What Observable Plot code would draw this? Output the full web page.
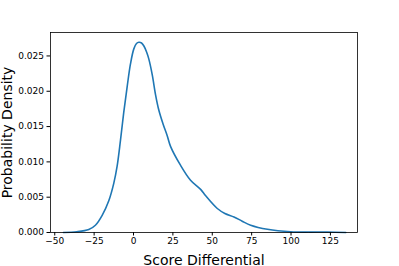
<!DOCTYPE html>
<html>
<head>
<meta charset="utf-8">
<script src="https://cdn.jsdelivr.net/npm/d3@7"></script>
<script src="https://cdn.jsdelivr.net/npm/@observablehq/plot@0.6"></script>
<style>
  html, body { margin: 0; padding: 0; background: #fff; }
</style>
</head>
<body>
<div id="chart"></div>
<script>
const scoreDiff = [-44.5, -36, -28.4, -24.2, -19.9, -15.7, -12.5, -10.4, -8.3, -6.2, -4.0, -1.9, 0.2, 1.9, 3.4, 5.1, 6.6, 8.3, 9.7, 11.9, 14.0, 16.1, 18.7, 21.4, 23.5, 29.9, 36.2, 42.6, 45.8, 53.2, 58, 63.8, 69, 74.4, 85.0, 99.8, 112, 123.1, 134.8];
const density = [0, 0.0001, 0.00042, 0.00103, 0.00244, 0.0045, 0.0070, 0.0094, 0.0130, 0.0170, 0.0207, 0.0239, 0.0260, 0.02676, 0.02693, 0.02683, 0.02641, 0.02556, 0.02458, 0.02232, 0.0195, 0.0173, 0.0154, 0.0137, 0.0122, 0.0095, 0.0074, 0.0061, 0.0052, 0.0034, 0.0027, 0.0022, 0.0016, 0.00103, 0.00045, 0.0001, 0.00006, 0.00008, 0];
const xTicks = [-50, -25, 0, 25, 50, 75, 100, 125];
const yTicks = [0, 0.005, 0.010, 0.015, 0.020, 0.025];
const xLabel = "Score Differential";
const yLabel = "Probability Density";

const data = scoreDiff.map((x, i) => ({x, y: density[i]}));
const fmtX = d => d < 0 ? "\u2212" + (-d) : String(d);
const fmtY = d3.format(".3f");

const plot = Plot.plot({
  width: 399,
  height: 266,
  marginLeft: 50,
  marginRight: 42,
  marginTop: 32,
  marginBottom: 34,
  style: {fontFamily: "DejaVu Sans", background: "#fff", color: "black"},
  x: {domain: [-52.7, 142.2]},
  y: {domain: [0, 0.02832]},
  marks: [
    Plot.line(data, {x: "x", y: "y", stroke: "#1f77b4", strokeWidth: 1.6, curve: "catmull-rom"}),
    Plot.frame({stroke: "black", strokeWidth: 0.8}),
    Plot.axisX({ticks: xTicks, tickFormat: fmtX, label: null, tickSize: 3.5, tickPadding: 2, fontSize: 9}),
    Plot.axisY({ticks: yTicks, tickFormat: fmtY, label: null, tickSize: 3.5, tickPadding: 3, fontSize: 9}),
    Plot.text([xLabel], {text: d => d, frameAnchor: "bottom", textAnchor: "middle", lineAnchor: "bottom", dy: 32, fontSize: 14, fill: "black"}),
    Plot.text([yLabel], {text: d => d, frameAnchor: "left", textAnchor: "middle", lineAnchor: "middle", dx: -43, rotate: -90, fontSize: 14, fill: "black"})
  ]
});
document.getElementById("chart").appendChild(plot);
</script>
</body>
</html>
